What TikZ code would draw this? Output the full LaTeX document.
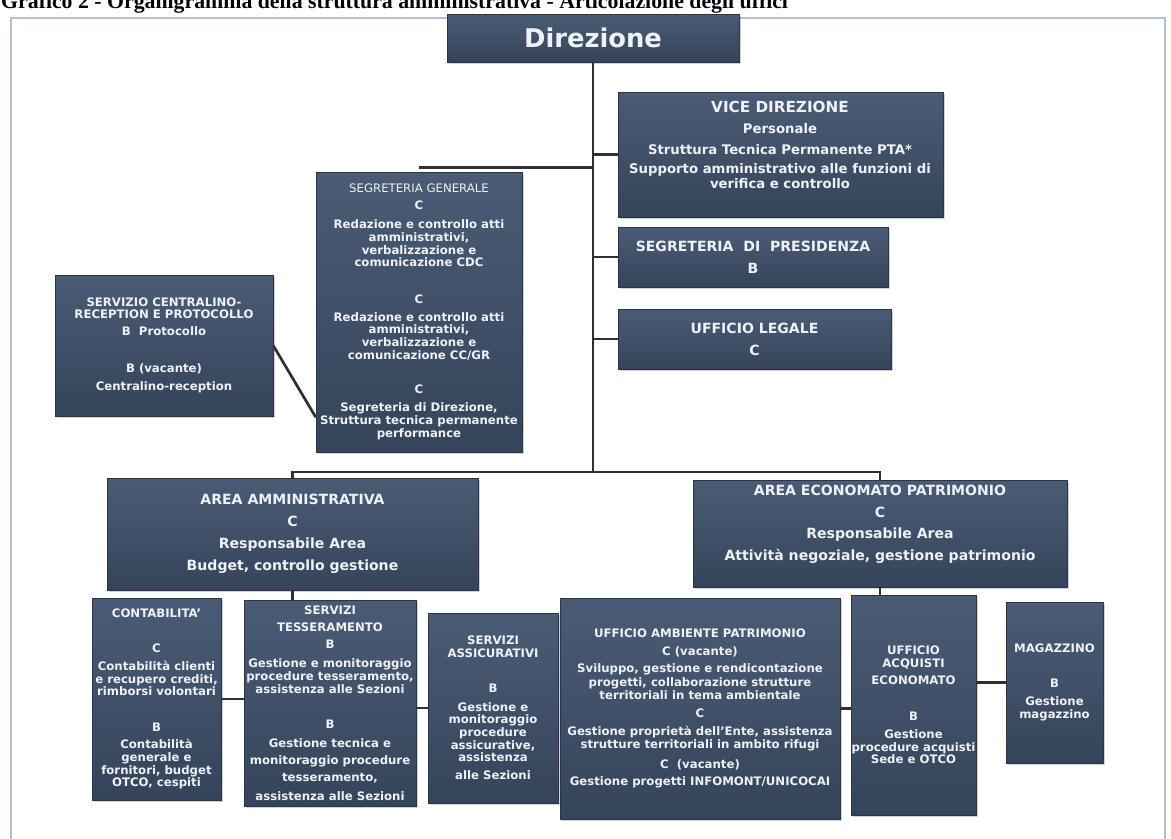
\documentclass[tikz,border=0pt]{standalone}
\usepackage{fontspec}
\usepackage{xcolor}
\usepackage{tikz}
\usetikzlibrary{fit,shadows,calc}
\newfontfamily\dejavu{DejaVu Sans}
\newfontfamily\titlefont{Liberation Serif}
\definecolor{boxtop}{HTML}{4A5C75}
\definecolor{boxbottom}{HTML}{34445A}
\definecolor{boxtext}{HTML}{EEF1F5}
\definecolor{linkline}{HTML}{303030}
\definecolor{frameline}{HTML}{AFC2D6}

\tikzset{
  ufficio/.style={rectangle, inner sep=0pt, top color=boxtop, bottom color=boxbottom,
    draw=boxbottom!80!black, line width=0.4pt,
    drop shadow={shadow xshift=1.5pt, shadow yshift=-1.5pt, opacity=0.35}},
  testo/.style={inner sep=0pt, text=boxtext, align=center,
    font=\dejavu\bfseries\fontsize{10}{10.8}\selectfont},
  grande/.style={font=\dejavu\bfseries\fontsize{12}{18.8}\selectfont},
  link/.style={draw=linkline, line width=2.3pt},
}

\begin{document}
\begin{tikzpicture}[x=0.03cm, y=-0.03cm]
    \useasboundingbox (0,0) rectangle (1171,839);
    \fill[white] (0,0) rectangle (1171,839);

    \node[anchor=base west, inner sep=0pt, font=\titlefont\bfseries\fontsize{18.6}{20}\selectfont]
      (titolo) at (1,9) {Grafico 2 - Organigramma della struttura amministrativa - Articolazione degli uffici};
    \draw[frameline, line width=1.5pt] (11,18) rectangle (1165,850);

    \node[ufficio, fit={(447,14) (739,62)}] (dir) {};
    \node[testo, font=\dejavu\bfseries\fontsize{22}{26}\selectfont] at (dir) {Direzione};

    \node[ufficio, fit={(618,92) (943,217)}] (vd) {};
    \node[testo, anchor=north, font=\dejavu\bfseries\fontsize{11.3}{12.8}\selectfont]
      at (780,101) {{\fontsize{13}{15}\selectfont VICE DIREZIONE}\\[5.1pt]
      Personale\\[5.1pt]
      Struttura Tecnica Permanente PTA*\\[3.4pt]
      Supporto amministrativo alle funzioni di\\
      verifica e controllo};

    \node[ufficio, fit={(618,227) (888,287)}] (sp) {};
    \node[testo, grande] at (sp) {SEGRETERIA~ DI~ PRESIDENZA\\B};
    \node[ufficio, fit={(618,309) (891,369)}] (ul) {};
    \node[testo, grande] at (ul) {UFFICIO LEGALE\\C};

    \node[ufficio, fit={(316,172) (522,452)}] (sg) {};
    \node[testo] at (sg)
      {{\mdseries SEGRETERIA GENERALE}\\[3.7pt]
      C\\[5.4pt]
      Redazione e controllo atti\\ amministrativi,\\ verbalizzazione e\\ comunicazione CDC\\[20pt]
      C\\[4.6pt]
      Redazione e controllo atti\\ amministrativi,\\ verbalizzazione e\\ comunicazione CC/GR\\[19pt]
      C\\[4.6pt]
      Segreteria di Direzione,\\ Struttura tecnica permanente\\ performance};

    \node[ufficio, fit={(55,275) (273,416)}] (cr) {};
    \node[testo] at (cr)
      {SERVIZIO CENTRALINO-\\ RECEPTION E PROTOCOLLO\\[3.7pt]
      B~ Protocollo\\[20.8pt]
      B (vacante)\\[4.6pt]
      Centralino-reception};

    \node[ufficio, fit={(107,478) (478,590)}] (aa) {};
    \node[testo, grande] at (aa)
      {AREA AMMINISTRATIVA\\C\\Responsabile Area\\Budget, controllo gestione};

    \node[ufficio, fit={(693,480) (1067,587)}] (ae) {};
    \node[testo, anchor=north, font=\dejavu\bfseries\fontsize{12}{18.4}\selectfont]
      at (880,485) {AREA ECONOMATO PATRIMONIO\\C\\Responsabile Area\\Attività negoziale, gestione patrimonio};

    \node[ufficio, fit={(92,598) (221,800)}] (cont) {};
    \node[testo] at (cont)
      {CONTABILITA’\\[19pt]
      C\\[4.6pt]
      Contabilità clienti\\ e recupero crediti,\\ rimborsi volontari\\[20pt]
      B\\[3.7pt]
      Contabilità\\ generale e\\ fornitori, budget\\ OTCO, cespiti};

    \node[ufficio, fit={(244,600) (416,806)}] (tess) {};
    \node[testo] at (tess)
      {SERVIZI\\[3.7pt] TESSERAMENTO\\[3.7pt]
      B\\[5.4pt]
      Gestione e monitoraggio\\[1.1pt] procedure tesseramento,\\ assistenza alle Sezioni\\[19pt]
      B\\[5.4pt]
      Gestione tecnica e\\[3.7pt] monitoraggio procedure\\[3.7pt] tesseramento,\\[5.4pt] assistenza alle Sezioni};

    \node[ufficio, fit={(428,613) (558,803)}] (assic) {};
    \node[testo] at (assic)
      {SERVIZI\\ ASSICURATIVI\\[19pt]
      B\\[5.4pt]
      Gestione e\\ monitoraggio\\ procedure\\ assicurative,\\ assistenza\\[4.6pt] alle Sezioni};

    \node[ufficio, fit={(560,598) (840,819)}] (amb) {};
    \node[testo] at (amb)
      {UFFICIO AMBIENTE PATRIMONIO\\[4.6pt]
      C (vacante)\\[3.7pt]
      Sviluppo, gestione e rendicontazione\\[1.1pt] progetti, collaborazione strutture\\ territoriali in tema ambientale\\[4.6pt]
      C\\[4.6pt]
      Gestione proprietà dell’Ente, assistenza\\ strutture territoriali in ambito rifugi\\[6.3pt]
      C~ (vacante)\\[3.7pt]
      Gestione progetti INFOMONT/UNICOCAI};

    \node[ufficio, fit={(851,595) (976,815)}] (acq) {};
    \node[testo] at (acq)
      {UFFICIO\\ ACQUISTI\\[3.7pt] ECONOMATO\\[20pt]
      B\\[4.6pt]
      Gestione\\ procedure acquisti\\ Sede e OTCO};

    \node[ufficio, fit={(1006,602) (1103,763)}] (mag) {};
    \node[testo] at (mag)
      {MAGAZZINO\\[19pt]
      B\\[4.6pt]
      Gestione\\ magazzino};

    \coordinate (nodo) at (593,472);
    \coordinate (sg-link) at ($(sg.north)+(0,-4)$);
    \draw[link] (dir.south) -- (nodo);
    \draw[link] (vd.west) -- (vd.west -| nodo);
    \draw[link] (sp.west) -- (sp.west -| nodo);
    \draw[link] (ul.west) -- (ul.west -| nodo);
    \draw[link] (sg-link) -- (sg-link -| nodo);
    \draw[link] (cr.east) -- ($(sg.south west)+(0,-35)$);
    \draw[link] (aa.north) |- (nodo) -| (ae.north);

    \draw[link] (aa.south) -- (aa.south |- tess.north);
    \draw[link] (cont.east) -- (cont.east -| tess.west);
    \draw[link] (tess.east |- assic.west) -- (assic.west);
    \draw[link] (amb.east) -- (amb.east -| acq.west);
    \draw[link] (acq.east |- mag.west) -- (mag.west);
    \draw[link] (ae.south) -- (ae.south |- acq.north);
\end{tikzpicture}
\end{document}
